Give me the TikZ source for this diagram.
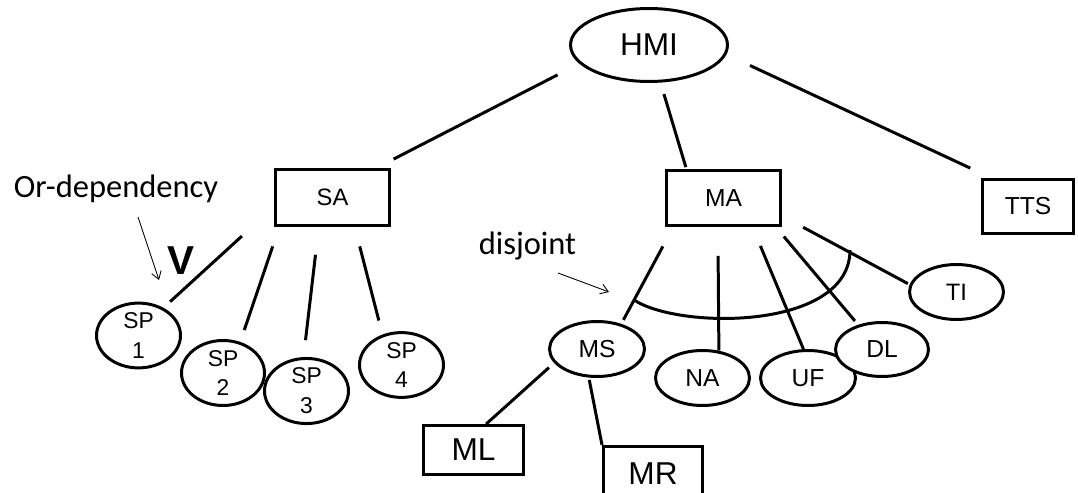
\documentclass[tikz,border=0pt]{standalone}
\usepackage{fontspec}
\setmainfont{Liberation Sans}
\newfontfamily\notefont{Carlito}
\usetikzlibrary{shapes.geometric, arrows.meta}

\begin{document}
\begin{tikzpicture}[x=0.02cm, y=-0.02cm,
                    box/.style={draw, line width=1.7pt, inner sep=0pt, font=\fontsize{14}{17}\selectfont},
                    oval/.style={draw, ellipse, fill=white, line width=1.7pt, inner sep=0pt, align=center, font=\fontsize{14}{17}\selectfont},
                    link/.style={line width=1.7pt},
                    note/.style={-{Straight Barb[length=1.5mm, width=2mm]}, line width=0.5pt}]
    \useasboundingbox (0,0) rectangle (1078,493);
    \node[oval, minimum width=3.14cm, minimum height=1.46cm, font=\fontsize{18}{22}\selectfont] (hmi) at (649,45) {HMI};
    \node[box, minimum width=2.28cm, minimum height=1.12cm, font=\fontsize{13.5}{16}\selectfont] (sa) at (332.5,197.5) {SA};
    \node[box, minimum width=2.28cm, minimum height=1.1cm] (ma) at (723.5,198) {MA};
    \node[box, minimum width=1.82cm, minimum height=1.08cm] (tts) at (1028,206.5) {TTS};
    \node[oval, minimum width=1.68cm, minimum height=1.28cm, font=\fontsize{13}{17}\selectfont] (sp1) at (138.5,335.5) {SP\\1};
    \node[oval, minimum width=1.66cm, minimum height=1.3cm, font=\fontsize{13}{17}\selectfont] (sp2) at (223,373) {SP\\2};
    \node[oval, minimum width=1.68cm, minimum height=1.3cm, font=\fontsize{13}{17}\selectfont] (sp3) at (306.5,391) {SP\\3};
    \node[oval, minimum width=1.68cm, minimum height=1.22cm, font=\fontsize{13}{17}\selectfont] (sp4) at (401.5,365) {SP\\4};
    \node[oval, minimum width=1.9cm, minimum height=1.1cm] (ms) at (597,349) {MS};
    \node[oval, minimum width=1.88cm, minimum height=1.1cm] (na) at (702.5,378) {NA};
    \node[oval, minimum width=1.9cm, minimum height=1.1cm] (uf) at (808,378) {UF};
    \node[oval, minimum width=1.86cm, minimum height=1.08cm] (dl) at (882,349.5) {DL};
    \node[oval, minimum width=1.88cm, minimum height=1.1cm, font=\fontsize{13.5}{16}\selectfont] (ti) at (956.5,292) {TI};
    \node[box, minimum width=2cm, minimum height=0.98cm, font=\fontsize{18}{22}\selectfont] (ml) at (473.5,450) {ML};
    \node[box, minimum width=1.98cm, minimum height=1.1cm, font=\fontsize{18}{22}\selectfont] (mr) at (653,474) {MR};

    \draw[link, shorten <=4.9mm, shorten >=3.9mm] (hmi.195) -- (sa.34);
    \draw[link, shorten <=2.4mm, shorten >=0.4mm] (hmi.-73) -- (ma.142);
    \draw[link, shorten <=5.2mm, shorten >=4.7mm] (hmi.-7) -- (tts.142);
    \draw[link, shorten <=8.7mm, shorten >=1.8mm] (sa.189) -- (sp1.48);
    \draw[link, shorten <=4.1mm, shorten >=2.5mm] (sa.209) -- (sp2.61);
    \draw[link, shorten <=5.6mm, shorten >=3.4mm] (sa.245) -- (sp3.95);
    \draw[link, shorten <=4mm, shorten >=2.9mm] (sa.-53) -- (sp4.122);
    \draw[link, shorten <=4.4mm, shorten >=0.9mm] (ma.210) -- (ms.46);
    \draw[link, shorten <=5.8mm] (ma.-101) -- (na.59);
    \draw[link, shorten <=4.1mm] (ma.-45) -- (uf.99);
    \draw[link, shorten <=2.5mm, shorten >=1mm] (ma.-29) -- (dl.134);
    \draw[link, shorten <=4.8mm, shorten >=0.4mm] (ma.-17) -- (ti.171);
    \draw[link, shorten <=1.4mm] (ms.198) -- (ml.64);
    \draw[link, shorten <=0.5mm] (ms.-106) -- (mr.north west);
    \draw[link] (634,300) .. controls (680,330) and (850,330) .. (850,250);

    \node[anchor=base, inner sep=0pt, font=\notefont\fontsize{18.5}{22}\selectfont] (ordep) at (116,198) {Or-dependency};
    \node[anchor=base, inner sep=0pt, font=\bfseries\fontsize{23}{23}\selectfont] (orsign) at (181,275) {V};
    \node[anchor=base, inner sep=0pt, font=\notefont\fontsize{18.5}{22}\selectfont] (disj) at (527.5,255) {disjoint};
    \coordinate (orfoot) at (138,217);
    \coordinate (orhead) at (159,280);
    \coordinate (djfoot) at (558,273);
    \coordinate (djhead) at (609,292);
    \draw[note] (orfoot) -- (orhead);
    \draw[note] (djfoot) -- (djhead);
\end{tikzpicture}
\end{document}
